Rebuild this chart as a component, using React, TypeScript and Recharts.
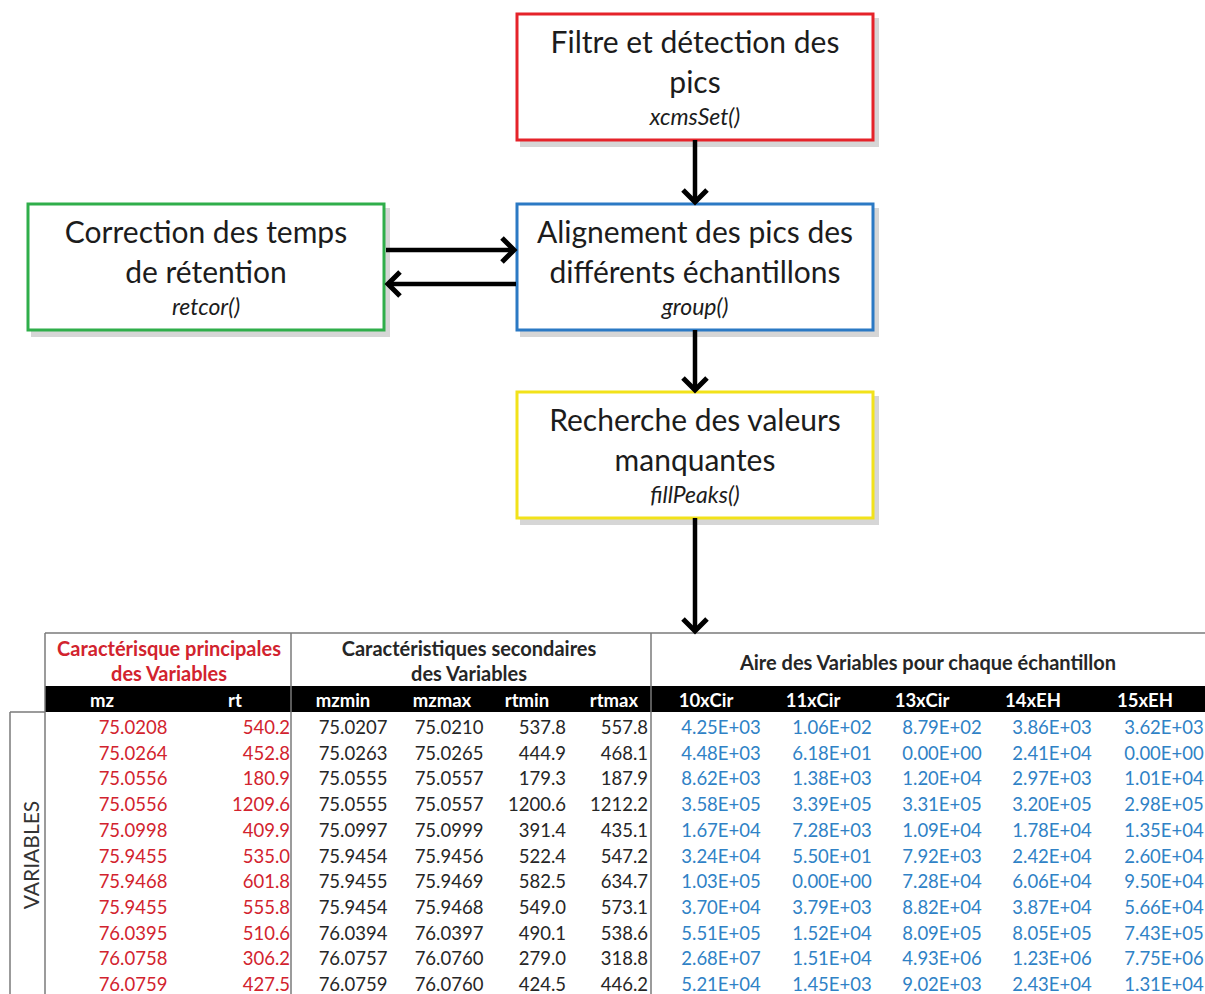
import React from "react";
import {
  ComposedChart,
  XAxis,
  YAxis,
  Scatter,
  ReferenceArea,
  ReferenceLine,
} from "recharts";

const W = 1205;
const H = 994;
const FONT = "Lato, 'Open Sans', sans-serif";

// flowchart steps
const stepTitles = [
  ["Filtre et détection des", "pics"],
  ["Alignement des pics des", "différents échantillons"],
  ["Correction des temps", "de rétention"],
  ["Recherche des valeurs", "manquantes"],
];
const stepFuncs = ["xcmsSet()", "group()", "retcor()", "fillPeaks()"];
const stepColors = ["#e5232a", "#2b79c4", "#2fae4a", "#f2e21a"];

// table
const groupTitles = [
  ["Caractérisque principales", "des Variables"],
  ["Caractéristiques secondaires", "des Variables"],
  ["Aire des Variables pour chaque  échantillon"],
];
const columns = ["mz", "rt", "mzmin", "mzmax", "rtmin", "rtmax", "10xCir", "11xCir", "13xCir", "14xEH", "15xEH"];

const mz = [75.0208, 75.0264, 75.0556, 75.0556, 75.0998, 75.9455, 75.9468, 75.9455, 76.0395, 76.0758, 76.0759];
const rt = [540.2, 452.8, 180.9, 1209.6, 409.9, 535.0, 601.8, 555.8, 510.6, 306.2, 427.5];
const mzmin = [75.0207, 75.0263, 75.0555, 75.0555, 75.0997, 75.9454, 75.9455, 75.9454, 76.0394, 76.0757, 76.0759];
const mzmax = [75.021, 75.0265, 75.0557, 75.0557, 75.0999, 75.9456, 75.9469, 75.9468, 76.0397, 76.076, 76.076];
const rtmin = [537.8, 444.9, 179.3, 1200.6, 391.4, 522.4, 582.5, 549.0, 490.1, 279.0, 424.5];
const rtmax = [557.8, 468.1, 187.9, 1212.2, 435.1, 547.2, 634.7, 573.1, 538.6, 318.8, 446.2];
const cir10 = [4.25e3, 4.48e3, 8.62e3, 3.58e5, 1.67e4, 3.24e4, 1.03e5, 3.7e4, 5.51e5, 2.68e7, 5.21e4];
const cir11 = [1.06e2, 6.18e1, 1.38e3, 3.39e5, 7.28e3, 5.5e1, 0, 3.79e3, 1.52e4, 1.51e4, 1.45e3];
const cir13 = [8.79e2, 0, 1.2e4, 3.31e5, 1.09e4, 7.92e3, 7.28e4, 8.82e4, 8.09e5, 4.93e6, 9.02e3];
const eh14 = [3.86e3, 2.41e4, 2.97e3, 3.2e5, 1.78e4, 2.42e4, 6.06e4, 3.87e4, 8.05e5, 1.23e6, 2.43e4];
const eh15 = [3.62e3, 0, 1.01e4, 2.98e5, 1.35e4, 2.6e4, 9.5e4, 5.66e4, 7.43e5, 7.75e6, 1.31e4];

const sci = (v: number) => {
  if (v === 0) return "0.00E+00";
  let e = Math.floor(Math.log10(v));
  let m = Number((v / Math.pow(10, e)).toFixed(2));
  if (m >= 10) {
    m = m / 10;
    e += 1;
  }
  const s = e < 0 ? "-" : "+";
  return `${m.toFixed(2)}E${s}${String(Math.abs(e)).padStart(2, "0")}`;
};

const tableCols = [
  { vals: mz.map((v) => v.toFixed(4)), color: "#d2232e" },
  { vals: rt.map((v) => v.toFixed(1)), color: "#d2232e" },
  { vals: mzmin.map((v) => v.toFixed(4)), color: "#262626" },
  { vals: mzmax.map((v) => v.toFixed(4)), color: "#262626" },
  { vals: rtmin.map((v) => v.toFixed(1)), color: "#262626" },
  { vals: rtmax.map((v) => v.toFixed(1)), color: "#262626" },
  { vals: cir10.map(sci), color: "#2f82c6" },
  { vals: cir11.map(sci), color: "#2f82c6" },
  { vals: cir13.map(sci), color: "#2f82c6" },
  { vals: eh14.map(sci), color: "#2f82c6" },
  { vals: eh15.map(sci), color: "#2f82c6" },
];

// layout
const boxes = [
  { x1: 517, x2: 873, y1: 14, y2: 140 },
  { x1: 517, x2: 873, y1: 204, y2: 330 },
  { x1: 28, x2: 384, y1: 204, y2: 330 },
  { x1: 517, x2: 873, y1: 392, y2: 518 },
];
const cellX = [133, 290, 353, 449, 566, 648, 721, 832, 942, 1052, 1164];
const cellAnchor = ["middle", "end", "middle", "middle", "end", "end", "middle", "middle", "middle", "middle", "middle"];
const headX = [102, 235, 343, 442, 527, 614, 706, 813, 922, 1033, 1145];
const groupX = [169, 469, 928];
const rowY0 = 727;
const rowStep = 25.7;

const boxText: any[] = [];
boxes.forEach((b, i) => {
  const cx = (b.x1 + b.x2) / 2;
  stepTitles[i].forEach((t, j) => boxText.push({ x: cx, y: b.y1 + 27 + j * 40, label: t, size: 30, italic: false, color: "#1c1c1c" }));
  boxText.push({ x: cx, y: b.y1 + 102, label: stepFuncs[i], size: 23, italic: true, color: "#1c1c1c" });
});

const headerText: any[] = [];
groupTitles.forEach((g, i) => {
  g.forEach((t, j) =>
    headerText.push({
      x: groupX[i],
      y: g.length === 1 ? 662 : 648 + j * 25,
      label: t,
      color: i === 0 ? "#d2232e" : "#262626",
      size: 20,
      weight: 700,
      anchor: "middle",
    })
  );
});
columns.forEach((c, i) =>
  headerText.push({ x: headX[i], y: 700, label: c, color: "#ffffff", size: 18.5, weight: 700, anchor: "middle" })
);

const cellText: any[] = [];
tableCols.forEach((col, i) =>
  col.vals.forEach((v, r) =>
    cellText.push({ x: cellX[i], y: rowY0 + r * rowStep, label: v, color: col.color, anchor: cellAnchor[i], size: 18.5 })
  )
);

const arrows = [
  { from: { x: 695, y: 140 }, to: { x: 695, y: 202 }, dir: "down" },
  { from: { x: 386, y: 250 }, to: { x: 514, y: 250 }, dir: "right" },
  { from: { x: 516, y: 284 }, to: { x: 388, y: 284 }, dir: "left" },
  { from: { x: 695, y: 330 }, to: { x: 695, y: 390 }, dir: "down" },
  { from: { x: 695, y: 518 }, to: { x: 695, y: 631 }, dir: "down" },
];
const arrowHeads = arrows.map((a) => ({ x: a.to.x, y: a.to.y, dir: a.dir }));

const gridLines = [
  [{ x: 45, y: 633 }, { x: W, y: 633 }],
  [{ x: 45, y: 633 }, { x: 45, y: H }],
  [{ x: 291, y: 633 }, { x: 291, y: H }],
  [{ x: 651, y: 633 }, { x: 651, y: H }],
  [{ x: 10, y: 712 }, { x: 45, y: 712 }],
  [{ x: 10, y: 712 }, { x: 10, y: H }],
];

const TextShape = (props: any) => {
  const p = props.payload;
  return (
    <text
      x={props.cx}
      y={props.cy}
      textAnchor={p.anchor || "middle"}
      dominantBaseline="central"
      fontFamily={FONT}
      fontSize={p.size || 17}
      fontStyle={p.italic ? "italic" : "normal"}
      fontWeight={p.weight || 400}
      fill={p.color}
    >
      {p.label}
    </text>
  );
};

const HeadShape = (props: any) => {
  const { cx, cy } = props;
  const d = props.payload.dir;
  const s = 12;
  let pts = "";
  if (d === "down") pts = `${cx - s},${cy - s} ${cx},${cy} ${cx + s},${cy - s}`;
  if (d === "right") pts = `${cx - s},${cy - s} ${cx},${cy} ${cx - s},${cy + s}`;
  if (d === "left") pts = `${cx + s},${cy - s} ${cx},${cy} ${cx + s},${cy + s}`;
  return <polyline points={pts} fill="none" stroke="#000" strokeWidth={5} strokeLinejoin="miter" />;
};

const SideLabel = (props: any) => (
  <text
    x={props.cx}
    y={props.cy}
    transform={`rotate(-90 ${props.cx} ${props.cy})`}
    textAnchor="middle"
    dominantBaseline="central"
    fontFamily={FONT}
    fontSize={21}
    fill="#333"
  >
    {props.payload.label}
  </text>
);

export default function App() {
  return (
    <div style={{ position: "absolute", left: 0, top: 0, width: W, height: H, background: "#fff" }}>
      <ComposedChart width={W} height={H} margin={{ top: 0, right: 0, bottom: 0, left: 0 }}>
        <XAxis type="number" dataKey="x" domain={[0, W]} hide allowDataOverflow />
        <YAxis type="number" dataKey="y" domain={[0, H]} reversed hide allowDataOverflow />

        {boxes.map((b, i) => (
          <ReferenceArea
            key={`sh${i}`}
            x1={b.x1 + 3}
            x2={b.x2 + 6}
            y1={b.y1 + 4}
            y2={b.y2 + 7}
            fill="#8a8a8a"
            fillOpacity={0.35}
            stroke="none"
            ifOverflow="visible"
          />
        ))}
        {boxes.map((b, i) => (
          <ReferenceArea
            key={`bx${i}`}
            x1={b.x1}
            x2={b.x2}
            y1={b.y1}
            y2={b.y2}
            fill="#ffffff"
            fillOpacity={1}
            stroke={stepColors[i]}
            strokeWidth={3}
            ifOverflow="visible"
          />
        ))}
        <ReferenceArea x1={45} x2={W} y1={686} y2={712} fill="#000" fillOpacity={1} stroke="none" ifOverflow="visible" />

        {gridLines.map((seg, i) => (
          <ReferenceLine key={`g${i}`} segment={seg} stroke="#7a7a7a" strokeWidth={1.5} ifOverflow="visible" />
        ))}
        {arrows.map((a, i) => (
          <ReferenceLine key={`a${i}`} segment={[a.from, a.to]} stroke="#000" strokeWidth={4.5} ifOverflow="visible" />
        ))}

        <Scatter data={arrowHeads} shape={HeadShape} isAnimationActive={false} />
        <Scatter data={boxText} shape={TextShape} isAnimationActive={false} />
        <Scatter data={headerText} shape={TextShape} isAnimationActive={false} />
        <Scatter data={cellText} shape={TextShape} isAnimationActive={false} />
        <Scatter data={[{ x: 30, y: 855, label: "VARIABLES" }]} shape={SideLabel} isAnimationActive={false} />
      </ComposedChart>
    </div>
  );
}
